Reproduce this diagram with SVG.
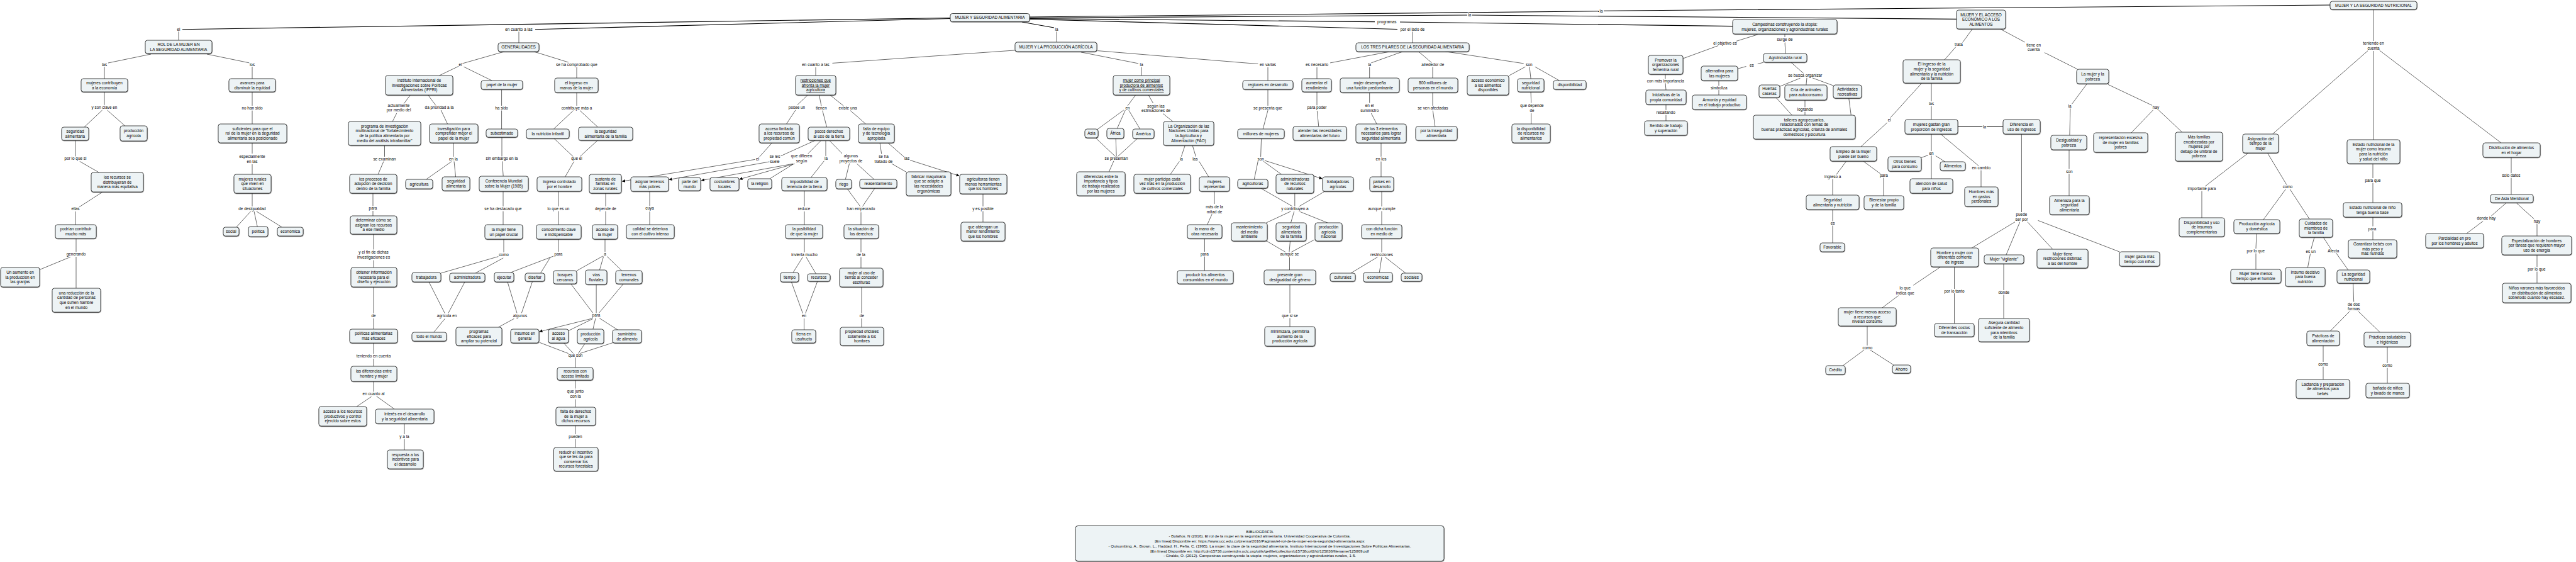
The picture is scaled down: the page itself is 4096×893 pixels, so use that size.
<svg xmlns="http://www.w3.org/2000/svg" width="4096" height="893" viewBox="0 0 4096 893">
<defs>
<marker id="ah" viewBox="0 0 10 10" refX="10" refY="5" markerWidth="5" markerHeight="5" markerUnits="userSpaceOnUse" orient="auto"><path d="M0,0 L10,5 L0,10 z" fill="#000"/></marker>
<filter id="sh" x="-5%" y="-10%" width="110%" height="130%"><feDropShadow dx="0.3" dy="0.7" stdDeviation="0.25" flood-color="#333" flood-opacity="0.8"/></filter>
</defs>
<style>
text{font-family:"Liberation Sans",Arial,sans-serif;font-size:6.4px;fill:#000;text-anchor:middle}
.n rect{fill:#edf3f5;stroke:#000;stroke-width:0.7;filter:url(#sh)}
.lb{paint-order:stroke;stroke:#fff;stroke-width:2.6px;stroke-linejoin:round}
.c path{stroke:#000;stroke-width:0.6;fill:none}
.c path.t{stroke-width:1.1}
.c path.a{marker-end:url(#ah)}
.u{text-decoration:underline}
</style>
<rect width="4096" height="893" fill="#fff"/>
<g id="connectors" class="c">
<path class="t" d="M1511 28.5 L290 46.7"/>
<path class="t" d="M1511 29.5 L851 46.7"/>
<path class="t" d="M1625 35 L1676 44"/>
<path class="t" d="M1637 27 L2542 17.8"/>
<path class="t" d="M2550 17.3 L3705 8"/>
<path class="t" d="M1637 28.5 L2333 24"/>
<path class="t" d="M2340 24 L3111 30.4"/>
<path class="t" d="M1637 29.5 L2186 34.6"/>
<path class="t" d="M2226 35 L2755 41.6"/>
<path class="t" d="M1637 30.5 L2222 46.5"/>
<path d="M284 49.5 L284 64"/>
<path d="M825 49.5 L825 68"/>
<path d="M1680 49.5 L1680 67"/>
<path d="M2246 49.5 L2246 68"/>
<path d="M240 86 L172 100"/>
<path d="M329 86 L397 100"/>
<path d="M166 106 L166 125"/>
<path d="M401 106 L401 125"/>
<path d="M166 146 L166 167.5"/>
<path d="M401 146 L401 168"/>
<path d="M162.6 175 L134 202"/>
<path d="M170.5 175 L199 200.3"/>
<path d="M401 175.5 L401 197"/>
<path d="M120 223 L120 248.5"/>
<path d="M401 227 L401 244"/>
<path d="M126.7 256.4 L158 274.4"/>
<path d="M401 261 L401 277"/>
<path d="M162.6 305.4 L126.2 328.8"/>
<path d="M401 307 L401 328"/>
<path d="M120 336 L120 357"/>
<path d="M398.8 335.8 L375.3 361.5"/>
<path d="M404 335.8 L409.2 360"/>
<path d="M407.7 335.8 L448.3 361"/>
<path d="M121 379 L121 400.5"/>
<path d="M112 408.3 L62.6 428.7"/>
<path d="M121 408 L121 458.5"/>
<path d="M802.8 81.7 L735 101"/>
<path d="M849 82 L903.8 99"/>
<path d="M729.8 105 L698.5 120"/>
<path d="M737.6 106.2 L782 128"/>
<path d="M917 106 L917 124"/>
<path d="M652.7 150.6 L642.3 164.6"/>
<path d="M680.3 150.6 L693.3 168"/>
<path d="M797.6 142.4 L797.6 168"/>
<path d="M630.8 179.8 L624 193.3"/>
<path d="M701.2 175 L711.6 197"/>
<path d="M797.6 175.5 L797.6 205"/>
<path d="M611.5 231 L611.5 249"/>
<path d="M721 227 L721 249"/>
<path d="M798 218 L798 248.5"/>
<path d="M610 256.4 L601 277.4"/>
<path d="M718.4 256.4 L677.7 285"/>
<path d="M722 256.4 L724.6 281.4"/>
<path d="M798.6 256.4 L800.2 280.2"/>
<path d="M593 307 L593 327.5"/>
<path d="M800 304 L800 328"/>
<path d="M593 335 L593 343"/>
<path d="M800 335.5 L800 357"/>
<path d="M594 372 L594 396.5"/>
<path d="M801 380 L801 401"/>
<path d="M594 413.5 L594 425"/>
<path d="M792.4 407.6 L701.1 434"/>
<path d="M800.2 410 L755.9 434"/>
<path d="M594 456 L594 498.5"/>
<path d="M681.9 447.8 L707.4 498"/>
<path d="M739.2 447.8 L712.6 498"/>
<path d="M807 448 L822 497.5"/>
<path d="M846.5 447.5 L829.3 497.5"/>
<path d="M707.4 506.4 L689.7 528"/>
<path d="M817.4 506.4 L792.4 520"/>
<path d="M594 506 L594 523"/>
<path d="M594 545 L594 562.5"/>
<path d="M594 570 L594 582"/>
<path d="M594 606 L594 622.5"/>
<path d="M590.6 630.2 L567.2 646"/>
<path d="M598.5 629.5 L627.1 650"/>
<path d="M643 673 L643 690"/>
<path d="M643 697.5 L643 715"/>
<path d="M917 147 L917 168"/>
<path d="M911.6 175.6 L880.4 205"/>
<path d="M922 175.6 L950.7 202"/>
<path d="M880.4 219.5 L911.6 249"/>
<path d="M950.7 222.5 L922 249"/>
<path d="M912.7 256.4 L898.6 281"/>
<path d="M888 304 L888 328"/>
<path d="M888 335.5 L888 357"/>
<path d="M888 380 L888 400"/>
<path d="M880.4 406.9 L812 433"/>
<path d="M875.1 408.8 L859.5 434"/>
<path d="M1227 227.7 L1207.7 249"/>
<path d="M1296.4 223 L1241.1 248"/>
<path d="M1305.2 223.5 L1284.4 244.5"/>
<path d="M1313 223.7 L1313 248.7"/>
<path d="M1310.4 255.7 L1289.6 282"/>
<path d="M1319.3 223.7 L1339 244"/>
<path d="M1350.6 259.7 L1344.3 285"/>
<path d="M1362.6 260.3 L1390.2 285.3"/>
<path d="M1346.9 299.6 L1367.8 328"/>
<path d="M1391.2 298.9 L1371.4 328"/>
<path d="M1369 335.5 L1369 357"/>
<path d="M1279 303 L1279 328"/>
<path d="M1279 336 L1279 357"/>
<path d="M1284.4 151 L1268 166.5"/>
<path d="M1302.6 151 L1306 168.5"/>
<path d="M1319.8 151 L1341.7 168.5"/>
<path d="M1265.1 174.7 L1250.5 197"/>
<path d="M1307.8 175.6 L1314.6 202"/>
<path d="M1352.1 175.6 L1376.6 197"/>
<path d="M1399.1 227.2 L1401.7 244.5"/>
<path d="M1417.3 259.7 L1440.7 273.2"/>
<path d="M1412.1 227.2 L1438.1 249.8"/>
<path d="M1563 308 L1563 328"/>
<path d="M1563 335.5 L1563 353"/>
<path d="M1614.3 79.9 L1323.5 100.4"/>
<path d="M1297 107 L1297 120"/>
<path d="M963 307 L963 328"/>
<path d="M963 335.5 L963 357"/>
<path d="M1033 304 L1033 327.5"/>
<path d="M1033 335 L1033 357"/>
<path d="M962 380 L962 400.5"/>
<path d="M958.6 406.9 L916.9 430.3"/>
<path d="M959.6 407.6 L953.3 429.4"/>
<path d="M965.3 407.6 L988.8 430.3"/>
<path d="M907.5 450.8 L942.9 497.5"/>
<path d="M948.1 451.5 L948.1 497.5"/>
<path d="M991.4 450.8 L952.3 497.5"/>
<path d="M942.9 506.4 L903.8 525.6"/>
<path d="M947 505.7 L942.9 523"/>
<path d="M953.3 505.7 L982 524"/>
<path d="M857.9 544.2 L903.8 561.7"/>
<path d="M896 544.7 L911.6 561.7"/>
<path d="M929.9 546.1 L919.5 561.7"/>
<path d="M976.8 543.8 L922 561.7"/>
<path d="M915 568 L915 584"/>
<path d="M915 604 L915 617.5"/>
<path d="M915 634.5 L915 647"/>
<path d="M915 676 L915 690"/>
<path d="M915 697.5 L915 711"/>
<path d="M1279 379 L1279 401"/>
<path d="M1276.5 408.3 L1260.9 433.3"/>
<path d="M1281.7 408.3 L1297.4 435"/>
<path d="M1258.3 447.8 L1276.5 498"/>
<path d="M1300 446.6 L1280.7 498"/>
<path d="M1278.6 506 L1278.6 524"/>
<path d="M1369 379 L1369 401"/>
<path d="M1369 408.5 L1369 426"/>
<path d="M1370 456 L1370 498.5"/>
<path d="M1370 506 L1370 520"/>
<path class="a" d="M1200.9 253.3 L989 288.2"/>
<path class="a" d="M1224.4 256.8 L1063.5 285.5"/>
<path class="a" d="M1260.9 260.3 L1115 286.7"/>
<path class="a" d="M1263.5 260.3 L1175.5 284.9"/>
<path d="M1260.9 261 L1223.4 284.4"/>
<path class="a" d="M1447 254.5 L1525.5 279.5"/>
<path class="a" d="M942.9 505.7 L857.5 527"/>
<path class="a" d="M2010.8 255 L2102.5 284"/>
<path d="M1718.9 82.9 L1810.1 100.9"/>
<path d="M1745 80.6 L2000.4 101.6"/>
<path d="M1815 106.5 L1815 120"/>
<path d="M2016 107 L2016 128"/>
<path d="M1806 150.6 L1793 168"/>
<path d="M1825.8 150.6 L1833.6 164"/>
<path d="M1786.7 175 L1745 205.5"/>
<path d="M1789.3 175 L1776.3 204.3"/>
<path d="M1794.5 174.7 L1812.7 205"/>
<path d="M1742.4 219.5 L1773.6 248.7"/>
<path d="M1774.2 220 L1775.2 248.7"/>
<path d="M1809.1 219.5 L1777.3 248.7"/>
<path d="M1771 255.7 L1763.2 273.2"/>
<path d="M1849.2 180.5 L1864.9 193.1"/>
<path d="M1884.2 231.2 L1878.4 248.7"/>
<path d="M1875.3 256.4 L1860.7 277.4"/>
<path d="M1896.2 231.2 L1901.4 248.7"/>
<path d="M1906.6 256.4 L1922.2 281.4"/>
<path d="M1931 304 L1931 324"/>
<path d="M1927.4 339.7 L1919.6 357"/>
<path d="M1915.4 379 L1915.4 400"/>
<path d="M1915.4 407.5 L1915.4 430"/>
<path d="M2016 142.5 L2016 168"/>
<path d="M2016.1 175 L2008.2 205"/>
<path d="M2005.6 219.5 L2004.6 249.4"/>
<path d="M2000.4 255.7 L1994.2 285.3"/>
<path d="M2008.2 255.7 L2038 277.4"/>
<path d="M2005.6 299.6 L2055.2 328"/>
<path d="M2058.8 307 L2058.8 328"/>
<path d="M2107.3 303.6 L2065.6 328"/>
<path d="M2052.5 335.8 L2013.4 354"/>
<path d="M2057.8 335.8 L2052.5 354"/>
<path d="M2065.6 335.8 L2110.9 354"/>
<path d="M2013.4 382.7 L2044.7 401"/>
<path d="M2051.5 382.7 L2049.9 401"/>
<path d="M2090.1 380.8 L2052.5 401"/>
<path d="M2050.5 407.5 L2050.5 429"/>
<path d="M2051 452 L2051 497.5"/>
<path d="M2051 505.5 L2051 519"/>
<path d="M2208.9 82.2 L2115.1 99.9"/>
<path d="M2229.8 82.2 L2180.3 99.9"/>
<path d="M2255.9 82.2 L2276.7 99.9"/>
<path d="M2297.6 81.7 L2422.7 100.9"/>
<path d="M2094 107 L2094 125"/>
<path d="M2177.7 106.5 L2177.7 124"/>
<path d="M2278 106.5 L2278 124"/>
<path d="M2425.3 106.2 L2399.2 120.3"/>
<path d="M2432 106.2 L2434.1 125"/>
<path d="M2440.9 106.2 L2479.4 128"/>
<path d="M2094 146 L2094 167.5"/>
<path d="M2094.2 175 L2096.8 201.3"/>
<path d="M2177.7 147 L2177.7 163.5"/>
<path d="M2180.3 180 L2189.1 197"/>
<path d="M2278 147 L2278 168"/>
<path d="M2278.3 175.6 L2281.9 201.3"/>
<path d="M2434.1 146 L2434.7 163.5"/>
<path d="M2434.7 180 L2434.7 197.3"/>
<path d="M2196 227 L2196 249"/>
<path d="M2196 256.5 L2196 281"/>
<path d="M2197 304 L2197 328"/>
<path d="M2197 335.5 L2197 357"/>
<path d="M2197 379 L2197 401"/>
<path d="M2190.7 408.3 L2147.9 434"/>
<path d="M2197 408.3 L2193.3 433.3"/>
<path d="M2202.2 408.3 L2235 434"/>
<path d="M2794.7 54.9 L2760.9 65.4"/>
<path d="M2732.2 72.5 L2676.4 92.9"/>
<path d="M2838 54.2 L2838 59"/>
<path d="M2838 66 L2839 85"/>
<path d="M2804.1 99.2 L2794.8 101.5"/>
<path d="M2776.5 105.5 L2763 109.3"/>
<path d="M2847.9 99.2 L2867.7 116.5"/>
<path d="M2862.5 124.2 L2830 137.3"/>
<path d="M2873 123.8 L2871.9 135"/>
<path d="M2881.8 123.8 L2915 136"/>
<path d="M2824.5 155.7 L2849.5 183"/>
<path d="M2870 159 L2870 170.5"/>
<path d="M2870 177.5 L2870 183"/>
<path d="M2939.7 155.7 L2943.3 183"/>
<path d="M2648 118 L2648 125.5"/>
<path d="M2648 131.5 L2649 143"/>
<path d="M2649 166 L2649 175.5"/>
<path d="M2649 182.5 L2649 192"/>
<path d="M2733 128.4 L2733 136.5"/>
<path d="M2733 142.5 L2733 151"/>
<path d="M3136.2 46 L3120.6 67.5"/>
<path d="M3110.1 74.3 L3091.9 95"/>
<path d="M3180.5 46 L3219.6 67"/>
<path d="M3250.9 83.6 L3303.4 110"/>
<path d="M3071 132.4 L3071 161"/>
<path d="M3071 168.5 L3071 190"/>
<path d="M3055.4 132.4 L3005.9 187"/>
<path d="M3000.7 195 L2959 233"/>
<path class="t" d="M3113 201.3 L3185 201.3"/>
<path d="M3071 213 L3071 240"/>
<path d="M3066 246.5 L3055 250.5"/>
<path d="M3077.8 247.6 L3093.5 257.5"/>
<path d="M3071 247 L3071 284"/>
<path d="M3085.1 212.5 L3146.6 263.9"/>
<path d="M3150 270.5 L3150 297"/>
<path d="M2935.5 256.4 L2919.9 277.4"/>
<path d="M2914 284.5 L2914 310"/>
<path d="M2963.1 256.4 L2990.2 276.2"/>
<path d="M2995 282.5 L2995 311"/>
<path d="M2914 333.4 L2914 351.5"/>
<path d="M2914 358.5 L2914 386"/>
<path d="M3214.4 213.2 L3214.5 337"/>
<path d="M3204 352.6 L3135.2 394"/>
<path d="M3211.8 352.6 L3189.9 405"/>
<path d="M3223.8 352.6 L3263.9 396"/>
<path d="M3240.5 350.3 L3370.4 400.2"/>
<path d="M3085.1 424.4 L3042.4 453.2"/>
<path d="M3018.9 469.5 L2992.9 489"/>
<path d="M3107.5 424.4 L3107.5 459"/>
<path d="M3107.5 466 L3107.5 514"/>
<path d="M3186 419.3 L3186 461"/>
<path d="M3186 468 L3186 506"/>
<path d="M2969 518 L2969 549"/>
<path d="M2964.2 556 L2930.3 581"/>
<path d="M2973.6 556 L3011.1 580"/>
<path d="M3774 15 L3774 65"/>
<path d="M3765.1 80.6 L3613.5 213"/>
<path d="M3774 81 L3774 222"/>
<path d="M3783.4 79.9 L3976.9 227"/>
<path d="M3318.1 133.6 L3294.5 165.3"/>
<path d="M3291.9 172.3 L3290.9 215"/>
<path d="M3352 134.3 L3422.6 167.7"/>
<path d="M3423.7 174.7 L3388.7 211.3"/>
<path d="M3432 174.7 L3469.7 210"/>
<path d="M3290 238 L3290 268.5"/>
<path d="M3290 276 L3290 311"/>
<path d="M3574.3 243.5 L3506.3 296"/>
<path d="M3501 303.5 L3501 346"/>
<path d="M3605.7 243.5 L3636 293.7"/>
<path d="M3634.4 300.7 L3598.9 349"/>
<path d="M3641.2 300.7 L3672.1 348"/>
<path d="M3773 260.4 L3773 283"/>
<path d="M3773 290.5 L3773 322"/>
<path d="M3773 345 L3773 359.5"/>
<path d="M3773 367 L3773 381"/>
<path d="M3993 250 L3993 275.5"/>
<path d="M3993 282.5 L3993 309"/>
<path d="M3984.7 322.7 L3961.2 343.2"/>
<path d="M3948.2 351.4 L3922 371"/>
<path d="M4001.5 322.7 L4029.2 347.9"/>
<path d="M4034 355 L4034 375"/>
<path d="M4034 405 L4034 424.5"/>
<path d="M4034 431.5 L4034 450"/>
<path d="M3588 371.4 L3587 395"/>
<path d="M3587 402.5 L3587 428"/>
<path d="M3679.9 377.3 L3674.7 396"/>
<path d="M3673.6 403 L3669.4 425.2"/>
<path d="M3694.5 377.3 L3706 395.3"/>
<path d="M3714.4 401.8 L3733.8 429.1"/>
<path d="M3741.6 450.1 L3742.7 479.5"/>
<path d="M3736.4 494.5 L3705 526.3"/>
<path d="M3749.5 494.5 L3784.5 528.1"/>
<path d="M3694 549 L3694 575"/>
<path d="M3694 582.5 L3694 603"/>
<path d="M3796 551 L3796 577"/>
<path d="M3796 584.5 L3796 609"/>
<g id="labels">
<text class="lb" x="284" y="48.9">el</text>
<text class="lb" x="825" y="48.9">en cuanto a las</text>
<text class="lb" x="166" y="104.9">las</text>
<text class="lb" x="401" y="104.9">los</text>
<text class="lb" x="166" y="173.4">y son clave en</text>
<text class="lb" x="401" y="173.8">no han sido</text>
<text class="lb" x="120" y="254.4">por lo que si</text>
<text class="lb" x="401" y="250.9">especialmente<tspan x="401" dy="7.6">en las</tspan></text>
<text class="lb" x="120" y="334.2">ellas</text>
<text class="lb" x="401" y="333.8">de desigualdad</text>
<text class="lb" x="121" y="406.3">generando</text>
<text class="lb" x="732" y="104.9">el</text>
<text class="lb" x="917" y="104.5">se ha comprobado que</text>
<text class="lb" x="634" y="169.7">actualmente<tspan x="634" dy="7.6">por medio del</tspan></text>
<text class="lb" x="698.5" y="173.4">da prioridad a la</text>
<text class="lb" x="797.6" y="173.8">ha sido</text>
<text class="lb" x="611.5" y="255.1">se examinan</text>
<text class="lb" x="721" y="254.8">en la</text>
<text class="lb" x="798" y="254.4">sin embargo en la</text>
<text class="lb" x="593" y="333.3">para</text>
<text class="lb" x="800" y="333.8">se ha destacado que</text>
<text class="lb" x="594" y="403.2">y el fin de dichas<tspan x="594" dy="7.6">investigaciones es</tspan></text>
<text class="lb" x="801" y="406.8">como</text>
<text class="lb" x="594" y="504.4">de</text>
<text class="lb" x="710.5" y="504.4">agrícola en</text>
<text class="lb" x="827" y="503.7">algunos</text>
<text class="lb" x="594" y="568.2">teniendo en cuenta</text>
<text class="lb" x="594" y="628.2">en cuanto al</text>
<text class="lb" x="643" y="695.9">y a la</text>
<text class="lb" x="917" y="173.8">contribuye más a</text>
<text class="lb" x="917" y="254.4">que el</text>
<text class="lb" x="888" y="333.8">lo que es un</text>
<text class="lb" x="963" y="333.8">depende de</text>
<text class="lb" x="1033" y="333.3">cuya</text>
<text class="lb" x="888" y="405.9">para</text>
<text class="lb" x="962" y="406.3">a</text>
<text class="lb" x="948" y="503.2">para</text>
<text class="lb" x="915" y="567">que son</text>
<text class="lb" x="915" y="624.4">que junto<tspan x="915" dy="7.6">con la</tspan></text>
<text class="lb" x="915" y="695.9">pueden</text>
<text class="lb" x="1297" y="105.4">en cuanto a las</text>
<text class="lb" x="1267" y="172.7">posee un</text>
<text class="lb" x="1306" y="174.3">tienen</text>
<text class="lb" x="1348" y="174.3">existe una</text>
<text class="lb" x="1204.6" y="254.8">el</text>
<text class="lb" x="1232" y="250.9">se les<tspan x="1232" dy="7.6">suele</tspan></text>
<text class="lb" x="1274.5" y="250.4">que difieren<tspan x="1274.5" dy="7.6">según</tspan></text>
<text class="lb" x="1313.6" y="254.4">la</text>
<text class="lb" x="1353" y="250.4">algunos<tspan x="1353" dy="7.6">proyectos de</tspan></text>
<text class="lb" x="1405" y="250.9">se ha<tspan x="1405" dy="7.6">tratado de</tspan></text>
<text class="lb" x="1442" y="254.4">las</text>
<text class="lb" x="1278.6" y="334.2">reduce</text>
<text class="lb" x="1369" y="333.8">han empeorado</text>
<text class="lb" x="1563" y="333.8">y es posible</text>
<text class="lb" x="1279" y="406.8">invierta mucho</text>
<text class="lb" x="1369" y="406.8">de la</text>
<text class="lb" x="1278.6" y="504.4">en</text>
<text class="lb" x="1370.4" y="504.4">de</text>
<text class="lb" x="1680" y="48.9">la</text>
<text class="lb" x="1815" y="104.9">la</text>
<text class="lb" x="2016" y="105.4">en varias</text>
<text class="lb" x="1793" y="173.8">en</text>
<text class="lb" x="1838" y="170.8">según las<tspan x="1838" dy="7.6">estimaciones de</tspan></text>
<text class="lb" x="2016" y="173.8">se presenta que</text>
<text class="lb" x="1775" y="254.4">se presentan</text>
<text class="lb" x="1878.4" y="254.8">la</text>
<text class="lb" x="1900.3" y="254.8">las</text>
<text class="lb" x="2004.6" y="254.8">son</text>
<text class="lb" x="1931" y="331.2">más de la<tspan x="1931" dy="7.6">mitad de</tspan></text>
<text class="lb" x="2059" y="333.8">y contribuyen a</text>
<text class="lb" x="1915.4" y="405.9">para</text>
<text class="lb" x="2050.5" y="405.9">aunque se</text>
<text class="lb" x="2197" y="407.3">restricciones</text>
<text class="lb" x="2051" y="503.7">que si se</text>
<text class="lb" x="2246" y="48.7">por el lado de</text>
<text class="lb" x="2205.3" y="36.8">programas</text>
<text class="lb" x="2336.7" y="26.2">la</text>
<text class="lb" x="2094" y="105.4">es necesario</text>
<text class="lb" x="2177.7" y="104.9">la</text>
<text class="lb" x="2278.3" y="104.9">alrededor de</text>
<text class="lb" x="2431.5" y="104.9">son</text>
<text class="lb" x="2094" y="173.4">para poder</text>
<text class="lb" x="2177.7" y="170.4">en el<tspan x="2177.7" dy="7.6">suministro</tspan></text>
<text class="lb" x="2278.3" y="174.3">se ven afectadas</text>
<text class="lb" x="2436" y="170.4">que depende<tspan x="2436" dy="7.6">de</tspan></text>
<text class="lb" x="2196" y="254.8">en los</text>
<text class="lb" x="2197" y="333.8">aunque cumple</text>
<text class="lb" x="2546" y="19.7">la</text>
<text class="lb" x="2743" y="70.6">el objetivo es</text>
<text class="lb" x="2838" y="64.8">surge de</text>
<text class="lb" x="2785.4" y="106.1">es</text>
<text class="lb" x="2870.3" y="121.8">se busca organizar</text>
<text class="lb" x="2648.3" y="130.6">con más importancia</text>
<text class="lb" x="2733.2" y="141.6">simboliza</text>
<text class="lb" x="2870.3" y="176.2">logrando</text>
<text class="lb" x="2648.8" y="181.1">resaltando</text>
<text class="lb" x="3114.4" y="73">trata</text>
<text class="lb" x="3233.7" y="73.7">tiene en<tspan x="3233.7" dy="7.6">cuenta</tspan></text>
<text class="lb" x="3071" y="167.1">las</text>
<text class="lb" x="3004.3" y="193.2">el</text>
<text class="lb" x="3155.5" y="203.5">la</text>
<text class="lb" x="3071" y="245.5">en</text>
<text class="lb" x="3150.3" y="269.1">en cambio</text>
<text class="lb" x="2914.2" y="283.1">ingreso a</text>
<text class="lb" x="2995.4" y="281.2">para</text>
<text class="lb" x="3214.4" y="343.1">puede<tspan x="3214.4" dy="7.6">ser por</tspan></text>
<text class="lb" x="2914.2" y="357.1">es</text>
<text class="lb" x="3029.3" y="459.9">lo que<tspan x="3029.3" dy="7.6">indica que</tspan></text>
<text class="lb" x="3107.5" y="464.7">por lo tanto</text>
<text class="lb" x="3186.3" y="466.6">donde</text>
<text class="lb" x="2969.4" y="554.6">como</text>
<text class="lb" x="3291" y="170.8">la</text>
<text class="lb" x="3428" y="173.1">hay</text>
<text class="lb" x="3290.3" y="274.5">son</text>
<text class="lb" x="3774" y="71.2">teniendo en<tspan x="3774" dy="7.6">cuenta</tspan></text>
<text class="lb" x="3501" y="301.8">importante para</text>
<text class="lb" x="3637.6" y="299.4">como</text>
<text class="lb" x="3773" y="288.7">para que</text>
<text class="lb" x="3993" y="281.2">solo datos</text>
<text class="lb" x="3953.4" y="349.4">donde hay</text>
<text class="lb" x="4034" y="353.6">hay</text>
<text class="lb" x="3772" y="365.5">para</text>
<text class="lb" x="4033.4" y="430.1">por lo que</text>
<text class="lb" x="3586.8" y="401">por lo que</text>
<text class="lb" x="3674.2" y="401.7">es un</text>
<text class="lb" x="3710.2" y="401">Afecta</text>
<text class="lb" x="3742.7" y="485.5">de dos<tspan x="3742.7" dy="7.6">formas</tspan></text>
<text class="lb" x="3694" y="581">como</text>
<text class="lb" x="3796" y="582.9">como</text>
</g>
</g>
<g id="n_root" class="n"><rect x="1511" y="21.5" width="126" height="13" rx="3.5"/><text x="1574" y="30.2">MUJER Y SEGURIDAD ALIMENTARIA</text></g>
<g id="n_rol" class="n"><rect x="231" y="64" width="106" height="21" rx="3.5"/><text x="284" y="72.9">ROL DE LA MUJER EN<tspan x="284" dy="7.6">LA SEGURIDAD ALIMENTARIA</tspan></text></g>
<g id="n_mujcontrib" class="n"><rect x="129" y="125" width="74" height="21" rx="3.5"/><text x="166" y="133.9">mujeres contribuyen<tspan x="166" dy="7.6">a la economía</tspan></text></g>
<g id="n_avances" class="n"><rect x="364" y="125" width="74" height="21" rx="3.5"/><text x="401" y="133.9">avances para<tspan x="401" dy="7.6">disminuir la equidad</tspan></text></g>
<g id="n_segal1" class="n"><rect x="98" y="202" width="43" height="21" rx="3.5"/><text x="119.5" y="210.9">seguridad<tspan x="119.5" dy="7.6">alimentaria</tspan></text></g>
<g id="n_prodagr1" class="n"><rect x="191" y="200" width="43" height="24" rx="3.5"/><text x="212.5" y="210.4">producción<tspan x="212.5" dy="7.6">agrícola</tspan></text></g>
<g id="n_suficientes" class="n"><rect x="347" y="197" width="109" height="30" rx="3.5"/><text x="401.5" y="206.6">suficientes para que el<tspan x="401.5" dy="7.6">rol de la mujer en la seguridad</tspan><tspan x="401.5" dy="7.6">alimentaria sea posicionado</tspan></text></g>
<g id="n_recursos_dist" class="n"><rect x="145" y="274" width="83" height="31" rx="3.5"/><text x="186.5" y="284.1">los recursos se<tspan x="186.5" dy="7.6">distribuyeran de</tspan><tspan x="186.5" dy="7.6">manera más equitativa</tspan></text></g>
<g id="n_mujrurales" class="n"><rect x="372" y="277" width="59" height="30" rx="3.5"/><text x="401.5" y="286.6">mujeres rurales<tspan x="401.5" dy="7.6">que viven en</tspan><tspan x="401.5" dy="7.6">situaciones</tspan></text></g>
<g id="n_podrian" class="n"><rect x="88" y="357" width="65" height="22" rx="3.5"/><text x="120.5" y="366.4">podrían contribuir<tspan x="120.5" dy="7.6">mucho más</tspan></text></g>
<g id="n_social" class="n"><rect x="355" y="361" width="25" height="14" rx="3.5"/><text x="367.5" y="370.2">social</text></g>
<g id="n_politica" class="n"><rect x="395" y="360" width="31" height="16" rx="3.5"/><text x="410.5" y="370.2">política</text></g>
<g id="n_economica" class="n"><rect x="441" y="361" width="41" height="14" rx="3.5"/><text x="461.5" y="370.2">económica</text></g>
<g id="n_aumento" class="n"><rect x="1" y="425" width="62" height="31" rx="3.5"/><text x="32" y="435.1">Un aumento en<tspan x="32" dy="7.6">la producción en</tspan><tspan x="32" dy="7.6">las granjas</tspan></text></g>
<g id="n_reduccion" class="n"><rect x="83" y="458" width="77" height="38" rx="3.5"/><text x="121.5" y="467.8">una reducción de la<tspan x="121.5" dy="7.6">cantidad de personas</tspan><tspan x="121.5" dy="7.6">que sufren hambre</tspan><tspan x="121.5" dy="7.6">en el mundo</tspan></text></g>
<g id="n_generalidades" class="n"><rect x="792" y="68" width="65" height="14" rx="3.5"/><text x="824.5" y="77.2">GENERALIDADES</text></g>
<g id="n_ifpri" class="n"><rect x="613" y="120" width="107" height="31" rx="3.5"/><text x="666.5" y="130.1">Instituto Internacional de<tspan x="666.5" dy="7.6">Investigaciones sobre Políticas</tspan><tspan x="666.5" dy="7.6">Alimentarias (IFPRI)</tspan></text></g>
<g id="n_papel" class="n"><rect x="765" y="128" width="66" height="14" rx="3.5"/><text x="798" y="137.2">papel de la mujer</text></g>
<g id="n_programa" class="n"><rect x="554" y="193" width="115" height="38" rx="3.5"/><text x="611.5" y="202.8">programa de investigación<tspan x="611.5" dy="7.6">multinacional de "fortalecimiento</tspan><tspan x="611.5" dy="7.6">de la política alimentaria por</tspan><tspan x="611.5" dy="7.6">medio del análisis intrafamiliar"</tspan></text></g>
<g id="n_invest" class="n"><rect x="683" y="197" width="77" height="30" rx="3.5"/><text x="721.5" y="206.6">investigación para<tspan x="721.5" dy="7.6">comprender mejor el</tspan><tspan x="721.5" dy="7.6">papel de la mujer</tspan></text></g>
<g id="n_subestimado" class="n"><rect x="773" y="205" width="50" height="13" rx="3.5"/><text x="798" y="213.7">subestimado</text></g>
<g id="n_procesos" class="n"><rect x="556" y="277" width="75" height="30" rx="3.5"/><text x="593.5" y="286.6">los procesos de<tspan x="593.5" dy="7.6">adopción de decisión</tspan><tspan x="593.5" dy="7.6">dentro de la familia</tspan></text></g>
<g id="n_agricultura" class="n"><rect x="645" y="285" width="43" height="15" rx="3.5"/><text x="666.5" y="294.7">agricultura</text></g>
<g id="n_segal2" class="n"><rect x="703" y="281" width="44" height="22" rx="3.5"/><text x="725" y="290.4">seguridad<tspan x="725" dy="7.6">alimentaria</tspan></text></g>
<g id="n_conferencia" class="n"><rect x="762" y="280" width="78" height="24" rx="3.5"/><text x="801" y="290.4">Conferencia Mundial<tspan x="801" dy="7.6">sobre la Mujer (1985)</tspan></text></g>
<g id="n_determinar" class="n"><rect x="557" y="343" width="74" height="29" rx="3.5"/><text x="594" y="352.1">determinar cómo se<tspan x="594" dy="7.6">asignan los recursos</tspan><tspan x="594" dy="7.6">a ese medio</tspan></text></g>
<g id="n_papelcrucial" class="n"><rect x="771" y="357" width="60" height="23" rx="3.5"/><text x="801" y="366.9">la mujer tiene<tspan x="801" dy="7.6">un papel crucial</tspan></text></g>
<g id="n_obtener" class="n"><rect x="558" y="425" width="73" height="31" rx="3.5"/><text x="594.5" y="435.1">obtener información<tspan x="594.5" dy="7.6">necesaria para el</tspan><tspan x="594.5" dy="7.6">diseño y ejecución</tspan></text></g>
<g id="n_trabajadora" class="n"><rect x="655" y="433" width="46" height="15" rx="3.5"/><text x="678" y="442.7">trabajadora</text></g>
<g id="n_administradora" class="n"><rect x="715" y="434" width="56" height="14" rx="3.5"/><text x="743" y="443.2">administradora</text></g>
<g id="n_ejecutar" class="n"><rect x="786" y="433" width="31" height="15" rx="3.5"/><text x="801.5" y="442.7">ejecutar</text></g>
<g id="n_todo" class="n"><rect x="655" y="528" width="55" height="14" rx="3.5"/><text x="682.5" y="537.2">todo el mundo</text></g>
<g id="n_programas_ef" class="n"><rect x="725" y="520" width="73" height="29" rx="3.5"/><text x="761.5" y="529.1">programas<tspan x="761.5" dy="7.6">eficaces para</tspan><tspan x="761.5" dy="7.6">ampliar su potencial</tspan></text></g>
<g id="n_politicas" class="n"><rect x="556" y="523" width="76" height="22" rx="3.5"/><text x="594" y="532.4">políticas alimentarias<tspan x="594" dy="7.6">más eficaces</tspan></text></g>
<g id="n_diferencias" class="n"><rect x="558" y="582" width="73" height="24" rx="3.5"/><text x="594.5" y="592.4">las diferencias entre<tspan x="594.5" dy="7.6">hombre y mujer</tspan></text></g>
<g id="n_acceso_rec" class="n"><rect x="507" y="646" width="76" height="31" rx="3.5"/><text x="545" y="656.1">acceso a los recursos<tspan x="545" dy="7.6">productivos y control</tspan><tspan x="545" dy="7.6">ejercido sobre estos</tspan></text></g>
<g id="n_interes" class="n"><rect x="597" y="650" width="93" height="23" rx="3.5"/><text x="643.5" y="659.9">interés en el desarrollo<tspan x="643.5" dy="7.6">y la seguridad alimentaria</tspan></text></g>
<g id="n_respuesta" class="n"><rect x="616" y="715" width="57" height="30" rx="3.5"/><text x="644.5" y="724.6">respuesta a los<tspan x="644.5" dy="7.6">incentivos para</tspan><tspan x="644.5" dy="7.6">el desarrollo</tspan></text></g>
<g id="n_ingreso_manos" class="n"><rect x="882" y="124" width="69" height="23" rx="3.5"/><text x="916.5" y="133.9">el ingreso en<tspan x="916.5" dy="7.6">manos de la mujer</tspan></text></g>
<g id="n_nutricion" class="n"><rect x="837" y="205" width="68" height="15" rx="3.5"/><text x="871" y="214.7">la nutrición infantil</text></g>
<g id="n_segfam" class="n"><rect x="920" y="202" width="86" height="21" rx="3.5"/><text x="963" y="210.9">la seguridad<tspan x="963" dy="7.6">alimentaria de la familia</tspan></text></g>
<g id="n_ingreso_ctrl" class="n"><rect x="854" y="281" width="71" height="23" rx="3.5"/><text x="889.5" y="290.9">ingreso controlado<tspan x="889.5" dy="7.6">por el hombre</tspan></text></g>
<g id="n_sustento" class="n"><rect x="937" y="277" width="51" height="30" rx="3.5"/><text x="962.5" y="286.6">sustento de<tspan x="962.5" dy="7.6">familias en</tspan><tspan x="962.5" dy="7.6">zonas rurales</tspan></text></g>
<g id="n_asignar" class="n"><rect x="1003" y="281" width="60" height="23" rx="3.5"/><text x="1033" y="290.9">asignar terrenos<tspan x="1033" dy="7.6">más pobres</tspan></text></g>
<g id="n_parte" class="n"><rect x="1079" y="282" width="35" height="21" rx="3.5"/><text x="1096.5" y="290.9">parte del<tspan x="1096.5" dy="7.6">mundo</tspan></text></g>
<g id="n_costumbres" class="n"><rect x="1129" y="282" width="46" height="21" rx="3.5"/><text x="1152" y="290.9">costumbres<tspan x="1152" dy="7.6">locales</tspan></text></g>
<g id="n_religion" class="n"><rect x="1189" y="284" width="38" height="16" rx="3.5"/><text x="1208" y="294.2">la religión</text></g>
<g id="n_conocimiento" class="n"><rect x="853" y="357" width="71" height="23" rx="3.5"/><text x="888.5" y="366.9">conocimiento clave<tspan x="888.5" dy="7.6">e indispensable</tspan></text></g>
<g id="n_acceso_mujer" class="n"><rect x="942" y="357" width="40" height="23" rx="3.5"/><text x="962" y="366.9">acceso de<tspan x="962" dy="7.6">la mujer</tspan></text></g>
<g id="n_calidad" class="n"><rect x="996" y="357" width="76" height="22" rx="3.5"/><text x="1034" y="366.4">calidad se deteriora<tspan x="1034" dy="7.6">con el cultivo intenso</tspan></text></g>
<g id="n_disenar" class="n"><rect x="835" y="434" width="31" height="13" rx="3.5"/><text x="850.5" y="442.7">diseñar</text></g>
<g id="n_bosques" class="n"><rect x="880" y="430" width="37" height="21" rx="3.5"/><text x="898.5" y="438.9">bosques<tspan x="898.5" dy="7.6">cercanos</tspan></text></g>
<g id="n_vias" class="n"><rect x="931" y="429" width="34" height="23" rx="3.5"/><text x="948" y="438.9">vías<tspan x="948" dy="7.6">fluviales</tspan></text></g>
<g id="n_terrenos" class="n"><rect x="979" y="430" width="42" height="21" rx="3.5"/><text x="1000" y="438.9">terrenos<tspan x="1000" dy="7.6">comunales</tspan></text></g>
<g id="n_insumos" class="n"><rect x="812" y="523" width="45" height="22" rx="3.5"/><text x="834.5" y="532.4">insumos en<tspan x="834.5" dy="7.6">general</tspan></text></g>
<g id="n_acceso_agua" class="n"><rect x="872" y="523" width="32" height="22" rx="3.5"/><text x="888" y="532.4">acceso<tspan x="888" dy="7.6">al agua</tspan></text></g>
<g id="n_prod_agr2" class="n"><rect x="918" y="523" width="42" height="23" rx="3.5"/><text x="939" y="532.9">producción<tspan x="939" dy="7.6">agrícola</tspan></text></g>
<g id="n_suministro" class="n"><rect x="974" y="524" width="46" height="21" rx="3.5"/><text x="997" y="532.9">suministro<tspan x="997" dy="7.6">de alimento</tspan></text></g>
<g id="n_rec_limitado" class="n"><rect x="886" y="584" width="57" height="20" rx="3.5"/><text x="914.5" y="592.4">recursos con<tspan x="914.5" dy="7.6">acceso limitado</tspan></text></g>
<g id="n_falta_der" class="n"><rect x="884" y="647" width="63" height="29" rx="3.5"/><text x="915.5" y="656.1">falta de derechos<tspan x="915.5" dy="7.6">de la mujer a</tspan><tspan x="915.5" dy="7.6">dichos recursos</tspan></text></g>
<g id="n_reducir" class="n"><rect x="880.5" y="711" width="70.5" height="37.5" rx="3.5"/><text x="915.7" y="720.6">reducir el incentivo<tspan x="915.7" dy="7.6">que se les da para</tspan><tspan x="915.7" dy="7.6">conservar los</tspan><tspan x="915.7" dy="7.6">recursos forestales</tspan></text></g>
<g id="n_restricciones" class="n"><rect x="1265" y="120" width="64" height="31" rx="3.5"/><text class="u" x="1297" y="130.1">restricciones que<tspan x="1297" dy="7.6">afronta la mujer</tspan><tspan x="1297" dy="7.6">agricultora</tspan></text></g>
<g id="n_acceso_lim" class="n"><rect x="1207" y="197" width="64" height="30" rx="3.5"/><text x="1239" y="206.6">acceso limitado<tspan x="1239" dy="7.6">a los recursos de</tspan><tspan x="1239" dy="7.6">propiedad común</tspan></text></g>
<g id="n_pocos" class="n"><rect x="1285" y="202" width="66" height="21" rx="3.5"/><text x="1318" y="210.9">pocos derechos<tspan x="1318" dy="7.6">al uso de la tierra</tspan></text></g>
<g id="n_falta_eq" class="n"><rect x="1365" y="197" width="57" height="30" rx="3.5"/><text x="1393.5" y="206.6">falta de equipo<tspan x="1393.5" dy="7.6">y de tecnología</tspan><tspan x="1393.5" dy="7.6">apropiada</tspan></text></g>
<g id="n_imposibilidad" class="n"><rect x="1243" y="282" width="72" height="21" rx="3.5"/><text x="1279" y="290.9">imposibilidad de<tspan x="1279" dy="7.6">tenencia de la tierra</tspan></text></g>
<g id="n_riego" class="n"><rect x="1329" y="285" width="25" height="15" rx="3.5"/><text x="1341.5" y="294.7">riego</text></g>
<g id="n_reasentamiento" class="n"><rect x="1367" y="285" width="59" height="14" rx="3.5"/><text x="1396.5" y="294.2">reasentamiento</text></g>
<g id="n_fabricar" class="n"><rect x="1441" y="273" width="71" height="38" rx="3.5"/><text x="1476.5" y="282.8">fabricar maquinaria<tspan x="1476.5" dy="7.6">que se adapte a</tspan><tspan x="1476.5" dy="7.6">las necesidades</tspan><tspan x="1476.5" dy="7.6">ergonómicas</tspan></text></g>
<g id="n_agricultoras_t" class="n"><rect x="1526" y="277" width="75" height="31" rx="3.5"/><text x="1563.5" y="287.1">agricultoras tienen<tspan x="1563.5" dy="7.6">menos herramientas</tspan><tspan x="1563.5" dy="7.6">que los hombres</tspan></text></g>
<g id="n_posibilidad" class="n"><rect x="1249" y="357" width="59" height="22" rx="3.5"/><text x="1278.5" y="366.4">la posibilidad<tspan x="1278.5" dy="7.6">de que la mujer</tspan></text></g>
<g id="n_situacion" class="n"><rect x="1342" y="357" width="55" height="22" rx="3.5"/><text x="1369.5" y="366.4">la situación de<tspan x="1369.5" dy="7.6">los derechos</tspan></text></g>
<g id="n_obtengan" class="n"><rect x="1528" y="353" width="70" height="30" rx="3.5"/><text x="1563" y="362.6">que obtengan un<tspan x="1563" dy="7.6">menor rendimiento</tspan><tspan x="1563" dy="7.6">que los hombres</tspan></text></g>
<g id="n_tiempo1" class="n"><rect x="1241" y="433" width="29" height="15" rx="3.5"/><text x="1255.5" y="442.7">tiempo</text></g>
<g id="n_recursos1" class="n"><rect x="1284" y="435" width="36" height="12" rx="3.5"/><text x="1302" y="443.2">recursos</text></g>
<g id="n_mujer_uso" class="n"><rect x="1335" y="426" width="69" height="30" rx="3.5"/><text x="1369.5" y="435.6">mujer al uso de<tspan x="1369.5" dy="7.6">tierras al conceder</tspan><tspan x="1369.5" dy="7.6">escrituras</tspan></text></g>
<g id="n_usufructo" class="n"><rect x="1259" y="524" width="38" height="21" rx="3.5"/><text x="1278" y="532.9">tierra en<tspan x="1278" dy="7.6">usufructo</tspan></text></g>
<g id="n_propiedad" class="n"><rect x="1336" y="520" width="69" height="29" rx="3.5"/><text x="1370.5" y="529.1">propiedad oficiales<tspan x="1370.5" dy="7.6">solamente a los</tspan><tspan x="1370.5" dy="7.6">hombres</tspan></text></g>
<g id="n_prod_main" class="n"><rect x="1614" y="67" width="130" height="15" rx="3.5"/><text x="1679" y="76.7">MUJER Y LA PRODUCCIÓN AGRÍCOLA</text></g>
<g id="n_principal" class="n"><rect x="1770" y="120" width="90" height="31" rx="3.5"/><text class="u" x="1815" y="130.1">mujer como principal<tspan x="1815" dy="7.6">productora de alimentos</tspan><tspan x="1815" dy="7.6">y de cultivos comerciales</tspan></text></g>
<g id="n_regiones" class="n"><rect x="1976" y="128" width="80" height="14" rx="3.5"/><text x="2016" y="137.2">regiones en desarrollo</text></g>
<g id="n_asia" class="n"><rect x="1725" y="205" width="21" height="14" rx="3.5"/><text x="1735.5" y="214.2">Asia</text></g>
<g id="n_africa" class="n"><rect x="1760" y="204" width="27" height="16" rx="3.5"/><text x="1773.5" y="214.2">África</text></g>
<g id="n_america" class="n"><rect x="1801" y="205" width="34" height="15" rx="3.5"/><text x="1818" y="214.7">América</text></g>
<g id="n_fao" class="n"><rect x="1850" y="193" width="80" height="38" rx="3.5"/><text x="1890" y="202.8">La Organización de las<tspan x="1890" dy="7.6">Naciones Unidas para</tspan><tspan x="1890" dy="7.6">la Agricultura y</tspan><tspan x="1890" dy="7.6">Alimentación (FAO)</tspan></text></g>
<g id="n_millones" class="n"><rect x="1968" y="205" width="74" height="15" rx="3.5"/><text x="2005" y="214.7">millones de mujeres</text></g>
<g id="n_diferencias_imp" class="n"><rect x="1712" y="273" width="77" height="38" rx="3.5"/><text x="1750.5" y="282.8">diferencias entre la<tspan x="1750.5" dy="7.6">importancia y tipos</tspan><tspan x="1750.5" dy="7.6">de trabajo realizados</tspan><tspan x="1750.5" dy="7.6">por las mujeres</tspan></text></g>
<g id="n_participa" class="n"><rect x="1803" y="277" width="90" height="30" rx="3.5"/><text x="1848" y="286.6">mujer participa cada<tspan x="1848" dy="7.6">vez más en la producción</tspan><tspan x="1848" dy="7.6">de cultivos comerciales</tspan></text></g>
<g id="n_representan" class="n"><rect x="1907" y="281" width="48" height="23" rx="3.5"/><text x="1931" y="290.9">mujeres<tspan x="1931" dy="7.6">representan</tspan></text></g>
<g id="n_agricultoras" class="n"><rect x="1968" y="285" width="48" height="14" rx="3.5"/><text x="1992" y="294.2">agricultoras</text></g>
<g id="n_administradoras" class="n"><rect x="2029" y="277" width="60" height="30" rx="3.5"/><text x="2059" y="286.6">administradoras<tspan x="2059" dy="7.6">de recursos</tspan><tspan x="2059" dy="7.6">naturales</tspan></text></g>
<g id="n_trabajadoras" class="n"><rect x="2103" y="281" width="49" height="23" rx="3.5"/><text x="2127.5" y="290.9">trabajadoras<tspan x="2127.5" dy="7.6">agrícolas</tspan></text></g>
<g id="n_mano" class="n"><rect x="1888" y="357" width="55" height="22" rx="3.5"/><text x="1915.5" y="366.4">la mano de<tspan x="1915.5" dy="7.6">obra necesaria</tspan></text></g>
<g id="n_mantenimiento" class="n"><rect x="1958" y="354" width="57" height="29" rx="3.5"/><text x="1986.5" y="363.1">mantenimiento<tspan x="1986.5" dy="7.6">del medio</tspan><tspan x="1986.5" dy="7.6">ambiente</tspan></text></g>
<g id="n_segfam2" class="n"><rect x="2029" y="354" width="48" height="29" rx="3.5"/><text x="2053" y="363.1">seguridad<tspan x="2053" dy="7.6">alimentaria</tspan><tspan x="2053" dy="7.6">de la familia</tspan></text></g>
<g id="n_prodnac" class="n"><rect x="2091" y="354" width="43" height="29" rx="3.5"/><text x="2112.5" y="363.1">producción<tspan x="2112.5" dy="7.6">agrícola</tspan><tspan x="2112.5" dy="7.6">nacional</tspan></text></g>
<g id="n_producir" class="n"><rect x="1872" y="430" width="89" height="21" rx="3.5"/><text x="1916.5" y="438.9">producir los alimentos<tspan x="1916.5" dy="7.6">consumidos en el mundo</tspan></text></g>
<g id="n_presente" class="n"><rect x="2010" y="429" width="82" height="23" rx="3.5"/><text x="2051" y="438.9">presente gran<tspan x="2051" dy="7.6">desigualdad de género</tspan></text></g>
<g id="n_culturales" class="n"><rect x="2115" y="434" width="40" height="13" rx="3.5"/><text x="2135" y="442.7">culturales</text></g>
<g id="n_economicas" class="n"><rect x="2168" y="433" width="46" height="15" rx="3.5"/><text x="2191" y="442.7">económicas</text></g>
<g id="n_sociales" class="n"><rect x="2228" y="434" width="33" height="13" rx="3.5"/><text x="2244.5" y="442.7">sociales</text></g>
<g id="n_minimizara" class="n"><rect x="2011" y="519" width="80" height="31" rx="3.5"/><text x="2051" y="529.1">minimizara, permitiría<tspan x="2051" dy="7.6">aumento de la</tspan><tspan x="2051" dy="7.6">producción agrícola</tspan></text></g>
<g id="n_pilares" class="n"><rect x="2156" y="68" width="180" height="14" rx="3.5"/><text x="2246" y="77.2">LOS TRES PILARES DE LA SEGURIDAD ALIMENTARIA</text></g>
<g id="n_aumentar" class="n"><rect x="2070" y="125" width="47" height="21" rx="3.5"/><text x="2093.5" y="133.9">aumentar el<tspan x="2093.5" dy="7.6">rendimiento</tspan></text></g>
<g id="n_desempena" class="n"><rect x="2131" y="124" width="94" height="23" rx="3.5"/><text x="2178" y="133.9">mujer desempeña<tspan x="2178" dy="7.6">una función predominante</tspan></text></g>
<g id="n_ochocientos" class="n"><rect x="2239" y="124" width="79" height="23" rx="3.5"/><text x="2278.5" y="133.9">800 millones de<tspan x="2278.5" dy="7.6">personas en el mundo</tspan></text></g>
<g id="n_acceso_econ" class="n"><rect x="2333" y="120" width="66" height="31" rx="3.5"/><text x="2366" y="130.1">acceso económico<tspan x="2366" dy="7.6">a los alimentos</tspan><tspan x="2366" dy="7.6">disponibles</tspan></text></g>
<g id="n_seg_nutri" class="n"><rect x="2413" y="125" width="42" height="21" rx="3.5"/><text x="2434" y="133.9">seguridad<tspan x="2434" dy="7.6">nutricional</tspan></text></g>
<g id="n_disponibilidad" class="n"><rect x="2470" y="128" width="52" height="14" rx="3.5"/><text x="2496" y="137.2">disponibilidad</text></g>
<g id="n_atender" class="n"><rect x="2056" y="201" width="85" height="22" rx="3.5"/><text x="2098.5" y="210.4">atender las necesidades<tspan x="2098.5" dy="7.6">alimentarias del futuro</tspan></text></g>
<g id="n_tres_elem" class="n"><rect x="2156" y="197" width="80" height="30" rx="3.5"/><text x="2196" y="206.6">de los 3 elementos<tspan x="2196" dy="7.6">necesarios para lograr</tspan><tspan x="2196" dy="7.6">seguridad alimentaria</tspan></text></g>
<g id="n_inseguridad" class="n"><rect x="2251" y="201" width="66" height="22" rx="3.5"/><text x="2284" y="210.4">por la inseguridad<tspan x="2284" dy="7.6">alimentaria</tspan></text></g>
<g id="n_disp_rec" class="n"><rect x="2404" y="197" width="61" height="30" rx="3.5"/><text x="2434.5" y="206.6">la disponibilidad<tspan x="2434.5" dy="7.6">de recursos no</tspan><tspan x="2434.5" dy="7.6">alimentarios</tspan></text></g>
<g id="n_paises" class="n"><rect x="2178" y="281" width="38" height="23" rx="3.5"/><text x="2197" y="290.9">países en<tspan x="2197" dy="7.6">desarrollo</tspan></text></g>
<g id="n_dicha" class="n"><rect x="2165" y="357" width="64" height="22" rx="3.5"/><text x="2197" y="366.4">con dicha función<tspan x="2197" dy="7.6">en medio de</tspan></text></g>
<g id="n_campesinas" class="n"><rect x="2755" y="31" width="166" height="23" rx="3.5"/><text x="2838" y="40.9">Campesinas construyendo la utopía:<tspan x="2838" dy="7.6">mujeres, organizaciones y agroindustrias rurales</tspan></text></g>
<g id="n_acceso_main" class="n"><rect x="3111" y="16" width="78" height="30" rx="3.5"/><text x="3150" y="25.6">MUJER Y EL ACCESO<tspan x="3150" dy="7.6">ECONÓMICO A LOS</tspan><tspan x="3150" dy="7.6">ALIMENTOS</tspan></text></g>
<g id="n_promover" class="n"><rect x="2621" y="88" width="55" height="30" rx="3.5"/><text x="2648.5" y="97.6">Promover la<tspan x="2648.5" dy="7.6">organizaciones</tspan><tspan x="2648.5" dy="7.6">femenina rural</tspan></text></g>
<g id="n_agroind" class="n"><rect x="2804" y="85" width="69" height="14" rx="3.5"/><text x="2838.5" y="94.2">Agroindustria rural</text></g>
<g id="n_alternativa" class="n"><rect x="2705" y="105" width="58" height="23" rx="3.5"/><text x="2734" y="114.9">alternativa para<tspan x="2734" dy="7.6">las mujeres</tspan></text></g>
<g id="n_huertas" class="n"><rect x="2797" y="135" width="33" height="20" rx="3.5"/><text x="2813.5" y="143.4">Huertas<tspan x="2813.5" dy="7.6">caseras</tspan></text></g>
<g id="n_cria" class="n"><rect x="2838" y="135" width="67" height="24" rx="3.5"/><text x="2871.5" y="145.4">Cría de animales<tspan x="2871.5" dy="7.6">para autoconsumo</tspan></text></g>
<g id="n_actividades" class="n"><rect x="2915" y="135" width="45" height="21" rx="3.5"/><text x="2937.5" y="143.9">Actividades<tspan x="2937.5" dy="7.6">recreativas</tspan></text></g>
<g id="n_iniciativas" class="n"><rect x="2617" y="143" width="64" height="23" rx="3.5"/><text x="2649" y="152.9">Iniciativas de la<tspan x="2649" dy="7.6">propia comunidad</tspan></text></g>
<g id="n_armonia" class="n"><rect x="2691" y="151" width="86" height="23" rx="3.5"/><text x="2734" y="160.9">Armonía y equidad<tspan x="2734" dy="7.6">en el trabajo productivo</tspan></text></g>
<g id="n_talleres" class="n"><rect x="2788" y="183" width="162" height="38" rx="3.5"/><text x="2869" y="192.8">talleres agropecuarios,<tspan x="2869" dy="7.6">relacionados con temas de</tspan><tspan x="2869" dy="7.6">buenas prácticas agrícolas, crianza de animales</tspan><tspan x="2869" dy="7.6">domésticos y psicultura</tspan></text></g>
<g id="n_sentido" class="n"><rect x="2615" y="192" width="68" height="23" rx="3.5"/><text x="2649" y="201.9">Sentido de trabajo<tspan x="2649" dy="7.6">y superación</tspan></text></g>
<g id="n_el_ingreso" class="n"><rect x="3026" y="95" width="91" height="37" rx="3.5"/><text x="3071.5" y="104.3">El ingreso de la<tspan x="3071.5" dy="7.6">mujer y la seguridad</tspan><tspan x="3071.5" dy="7.6">alimentaria y la nutrición</tspan><tspan x="3071.5" dy="7.6">de la familia</tspan></text></g>
<g id="n_gastan" class="n"><rect x="3029" y="190" width="84" height="23" rx="3.5"/><text x="3071" y="199.9">mujeres gastan gran<tspan x="3071" dy="7.6">proporción de ingresos</tspan></text></g>
<g id="n_diferencia_uso" class="n"><rect x="3185" y="190" width="59" height="23" rx="3.5"/><text x="3214.5" y="199.9">Diferencia en<tspan x="3214.5" dy="7.6">uso de ingresos</tspan></text></g>
<g id="n_empleo" class="n"><rect x="2910" y="233" width="74" height="23" rx="3.5"/><text x="2947" y="242.9">Empleo de la mujer<tspan x="2947" dy="7.6">puede ser bueno</tspan></text></g>
<g id="n_otros" class="n"><rect x="3002" y="249" width="53" height="23" rx="3.5"/><text x="3028.5" y="258.9">Otros bienes<tspan x="3028.5" dy="7.6">para consumo</tspan></text></g>
<g id="n_alimentos" class="n"><rect x="3085" y="257" width="40" height="14" rx="3.5"/><text x="3105" y="266.2">Alimentos</text></g>
<g id="n_atencion" class="n"><rect x="3037" y="284" width="68" height="23" rx="3.5"/><text x="3071" y="293.9">atención de salud<tspan x="3071" dy="7.6">para niños</tspan></text></g>
<g id="n_hombres_mas" class="n"><rect x="3124" y="297" width="53" height="31" rx="3.5"/><text x="3150.5" y="307.1">Hombres más<tspan x="3150.5" dy="7.6">en gastos</tspan><tspan x="3150.5" dy="7.6">personales</tspan></text></g>
<g id="n_seg_alim_nut" class="n"><rect x="2872" y="310" width="84" height="23" rx="3.5"/><text x="2914" y="319.9">Seguridad<tspan x="2914" dy="7.6">alimentaria y nutrición</tspan></text></g>
<g id="n_bienestar" class="n"><rect x="2964" y="311" width="63" height="22" rx="3.5"/><text x="2995.5" y="320.4">Bienestar propio<tspan x="2995.5" dy="7.6">y de la familia</tspan></text></g>
<g id="n_favorable" class="n"><rect x="2894" y="386" width="39" height="14" rx="3.5"/><text x="2913.5" y="395.2">Favorable</text></g>
<g id="n_hombre_mujer" class="n"><rect x="3070" y="394" width="76" height="30" rx="3.5"/><text x="3108" y="403.6">Hombre y mujer con<tspan x="3108" dy="7.6">diferentes corriente</tspan><tspan x="3108" dy="7.6">de ingreso</tspan></text></g>
<g id="n_vigilante" class="n"><rect x="3155" y="405" width="63" height="14" rx="3.5"/><text x="3186.5" y="414.2">Mujer "vigilante"</text></g>
<g id="n_mujer_restr" class="n"><rect x="3239" y="396" width="81" height="30" rx="3.5"/><text x="3279.5" y="405.6">Mujer tiene<tspan x="3279.5" dy="7.6">restricciones distintas</tspan><tspan x="3279.5" dy="7.6">a las del hombre</tspan></text></g>
<g id="n_mujer_gasta" class="n"><rect x="3370" y="400" width="64" height="23" rx="3.5"/><text x="3402" y="409.9">mujer gasta más<tspan x="3402" dy="7.6">tiempo con niños</tspan></text></g>
<g id="n_menos_acceso" class="n"><rect x="2923" y="489" width="92" height="29" rx="3.5"/><text x="2969" y="498.1">mujer tiene menos acceso<tspan x="2969" dy="7.6">a recursos que</tspan><tspan x="2969" dy="7.6">nivelan consumo</tspan></text></g>
<g id="n_costos" class="n"><rect x="3076" y="514" width="63" height="21" rx="3.5"/><text x="3107.5" y="522.9">Diferentes costos<tspan x="3107.5" dy="7.6">de transacción</tspan></text></g>
<g id="n_asegura" class="n"><rect x="3146" y="506" width="81" height="37" rx="3.5"/><text x="3186.5" y="515.3">Asegura cantidad<tspan x="3186.5" dy="7.6">suficiente de alimento</tspan><tspan x="3186.5" dy="7.6">para miembros</tspan><tspan x="3186.5" dy="7.6">de la familia</tspan></text></g>
<g id="n_credito" class="n"><rect x="2903" y="581" width="31" height="14" rx="3.5"/><text x="2918.5" y="590.2">Crédito</text></g>
<g id="n_ahorro" class="n"><rect x="3009" y="580" width="29" height="13" rx="3.5"/><text x="3023.5" y="588.7">Ahorro</text></g>
<g id="n_nutricional_main" class="n"><rect x="3705" y="2" width="138" height="13" rx="3.5"/><text x="3774" y="10.7">MUJER Y LA SEGURIDAD NUTRICIONAL</text></g>
<g id="n_pobreza" class="n"><rect x="3302" y="110" width="51" height="23" rx="3.5"/><text x="3327.5" y="119.9">La mujer y la<tspan x="3327.5" dy="7.6">pobreza</tspan></text></g>
<g id="n_desigualdad" class="n"><rect x="3261" y="215" width="57" height="23" rx="3.5"/><text x="3289.5" y="224.9">Desigualdad y<tspan x="3289.5" dy="7.6">pobreza</tspan></text></g>
<g id="n_representacion" class="n"><rect x="3329" y="211" width="86" height="31" rx="3.5"/><text x="3372" y="221.1">representación excesiva<tspan x="3372" dy="7.6">de mujer en familias</tspan><tspan x="3372" dy="7.6">pobres</tspan></text></g>
<g id="n_mas_familias" class="n"><rect x="3459" y="210" width="75" height="46" rx="3.5"/><text x="3496.5" y="220">Más familias<tspan x="3496.5" dy="7.6">encabezadas por</tspan><tspan x="3496.5" dy="7.6">mujeres por</tspan><tspan x="3496.5" dy="7.6">debajo de umbral de</tspan><tspan x="3496.5" dy="7.6">pobreza</tspan></text></g>
<g id="n_amenaza" class="n"><rect x="3259" y="311" width="63" height="30" rx="3.5"/><text x="3290.5" y="320.6">Amenaza para la<tspan x="3290.5" dy="7.6">seguridad</tspan><tspan x="3290.5" dy="7.6">alimentaria</tspan></text></g>
<g id="n_asignacion" class="n"><rect x="3566" y="213" width="57" height="30" rx="3.5"/><text x="3594.5" y="222.6">Asignación del<tspan x="3594.5" dy="7.6">tiempo de la</tspan><tspan x="3594.5" dy="7.6">mujer</tspan></text></g>
<g id="n_estado_mujer" class="n"><rect x="3732" y="222" width="84" height="38" rx="3.5"/><text x="3774" y="231.8">Estado nutricional de la<tspan x="3774" dy="7.6">mujer como insumo</tspan><tspan x="3774" dy="7.6">para la nutrición</tspan><tspan x="3774" dy="7.6">y salud del niño</tspan></text></g>
<g id="n_distribucion" class="n"><rect x="3948" y="227" width="91" height="23" rx="3.5"/><text x="3993.5" y="236.9">Distribución de alimentos<tspan x="3993.5" dy="7.6">en el hogar</tspan></text></g>
<g id="n_asia_mer" class="n"><rect x="3960" y="309" width="68" height="13" rx="3.5"/><text x="3994" y="317.7">De Asia Meridional</text></g>
<g id="n_estado_nino" class="n"><rect x="3726" y="322" width="93" height="23" rx="3.5"/><text x="3772.5" y="331.9">Estado nutricional de niño<tspan x="3772.5" dy="7.6">tenga buena base</tspan></text></g>
<g id="n_disp_insumos" class="n"><rect x="3465" y="346" width="72" height="30" rx="3.5"/><text x="3501" y="355.6">Disponibilidad y uso<tspan x="3501" dy="7.6">de insumos</tspan><tspan x="3501" dy="7.6">complementarios</tspan></text></g>
<g id="n_prod_dom" class="n"><rect x="3552" y="349" width="73" height="22" rx="3.5"/><text x="3588.5" y="358.4">Producción agrícola<tspan x="3588.5" dy="7.6">y doméstica</tspan></text></g>
<g id="n_cuidados" class="n"><rect x="3656" y="348" width="53" height="29" rx="3.5"/><text x="3682.5" y="357.1">Cuidados de<tspan x="3682.5" dy="7.6">miembros de</tspan><tspan x="3682.5" dy="7.6">la familia</tspan></text></g>
<g id="n_garantizar" class="n"><rect x="3734" y="381" width="77" height="29" rx="3.5"/><text x="3772.5" y="390.1">Garantizar bebés con<tspan x="3772.5" dy="7.6">más peso y</tspan><tspan x="3772.5" dy="7.6">más nutridos</tspan></text></g>
<g id="n_parcialidad" class="n"><rect x="3857" y="371" width="92" height="23" rx="3.5"/><text x="3903" y="380.9">Parcialidad en pro<tspan x="3903" dy="7.6">por los hombres y adultos</tspan></text></g>
<g id="n_especializacion" class="n"><rect x="3978" y="375" width="111" height="30" rx="3.5"/><text x="4033.5" y="384.6">Especialización de hombres<tspan x="4033.5" dy="7.6">por tareas que requieren mayor</tspan><tspan x="4033.5" dy="7.6">uso de energía</tspan></text></g>
<g id="n_ninos" class="n"><rect x="3979" y="450" width="109" height="31" rx="3.5"/><text x="4033.5" y="460.1">Niños varones más favorecidos<tspan x="4033.5" dy="7.6">en distribución de alimentos</tspan><tspan x="4033.5" dy="7.6">sobretodo cuando hay escasez.</tspan></text></g>
<g id="n_menos_tiempo" class="n"><rect x="3547" y="428" width="80" height="22" rx="3.5"/><text x="3587" y="437.4">Mujer tiene menos<tspan x="3587" dy="7.6">tiempo que el hombre</tspan></text></g>
<g id="n_insumo_dec" class="n"><rect x="3634" y="425" width="63" height="30" rx="3.5"/><text x="3665.5" y="434.6">Insumo decisivo<tspan x="3665.5" dy="7.6">para buena</tspan><tspan x="3665.5" dy="7.6">nutrición</tspan></text></g>
<g id="n_seg_nutricional" class="n"><rect x="3716" y="429" width="52" height="21" rx="3.5"/><text x="3742" y="437.9">La seguridad<tspan x="3742" dy="7.6">nutricional</tspan></text></g>
<g id="n_practicas_al" class="n"><rect x="3668" y="526" width="52" height="23" rx="3.5"/><text x="3694" y="535.9">Prácticas de<tspan x="3694" dy="7.6">alimentación</tspan></text></g>
<g id="n_practicas_sal" class="n"><rect x="3759" y="528" width="74" height="23" rx="3.5"/><text x="3796" y="537.9">Prácticas saludables<tspan x="3796" dy="7.6">e higiénicas</tspan></text></g>
<g id="n_lactancia" class="n"><rect x="3651" y="603" width="85" height="30" rx="3.5"/><text x="3693.5" y="612.6">Lactancia y preparación<tspan x="3693.5" dy="7.6">de alimentos para</tspan><tspan x="3693.5" dy="7.6">bebés</tspan></text></g>
<g id="n_banado" class="n"><rect x="3762" y="609" width="69" height="23" rx="3.5"/><text x="3796.5" y="618.9">bañado de niños<tspan x="3796.5" dy="7.6">y lavado de manos</tspan></text></g>
<g id="n_bibliografia" class="n"><rect x="1710" y="835.5" width="586" height="56" rx="4"/><text x="2003" y="846.7" style="font-size:6.2px">BIBLIOGRAFÍA<tspan x="2003" dy="7.7">- Bolaños. N (2016). El rol de la mujer en la seguridad alimentaria. Universidad Cooperativa de Colombia.</tspan><tspan x="2003" dy="7.7">[En línea] Disponible en: https://www.ucc.edu.co/prensa/2016/Paginas/el-rol-de-la-mujer-en-la-seguridad-alimentaria.aspx</tspan><tspan x="2003" dy="7.7">- Quisumbing. A., Brown. L., Haddad. H., Peña. C. (1995). La mujer: la clave de la seguridad alimentaria. Instituto Internacional de Investigaciones Sobre Políticas Alimentarias.</tspan><tspan x="2003" dy="7.7">[En línea] Disponible en: http://cdm15738.contentdm.oclc.org/utils/getfile/collection/p15738coll2/id/125838/filename/125869.pdf</tspan><tspan x="2003" dy="7.7">- Giraldo, O. (2012). Campesinas construyendo la utopía: mujeres, organizaciones y agroindustrias rurales, 1-5.</tspan></text></g>
</svg>
